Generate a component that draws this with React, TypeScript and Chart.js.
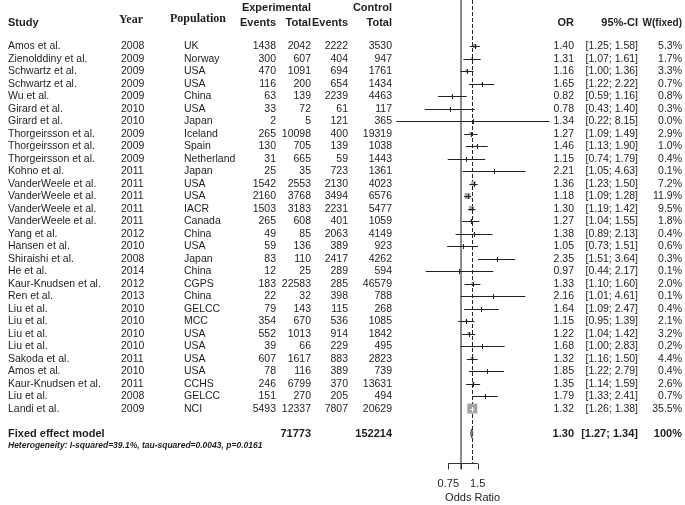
import React, { useEffect, useRef } from "react";
import { Chart, registerables } from "chart.js";

Chart.register(...registerables);

const studies = [
  "Amos et al.", "Zienolddiny et al.", "Schwartz et al.", "Schwartz et al.", "Wu et al.",
  "Girard et al.", "Girard et al.", "Thorgeirsson et al.", "Thorgeirsson et al.", "Thorgeirsson et al.",
  "Kohno et al.", "VanderWeele et al.", "VanderWeele et al.", "VanderWeele et al.", "VanderWeele et al.",
  "Yang et al.", "Hansen et al.", "Shiraishi et al.", "He et al.", "Kaur-Knudsen et al.",
  "Ren et al.", "Liu et al.", "Liu et al.", "Liu et al.", "Liu et al.",
  "Sakoda et al.", "Amos et al.", "Kaur-Knudsen et al.", "Liu et al.", "Landi et al.",
];
const years = [
  "2008", "2009", "2009", "2009", "2009", "2010", "2010", "2009", "2009", "2009",
  "2011", "2011", "2011", "2011", "2011", "2012", "2010", "2008", "2014", "2012",
  "2013", "2010", "2010", "2010", "2010", "2011", "2010", "2011", "2008", "2009",
];
const populations = [
  "UK", "Norway", "USA", "USA", "China", "USA", "Japan", "Iceland", "Spain", "Netherland",
  "Japan", "USA", "USA", "IACR", "Canada", "China", "USA", "Japan", "China", "CGPS",
  "China", "GELCC", "MCC", "USA", "USA", "USA", "USA", "CCHS", "GELCC", "NCI",
];
const expEvents = [1438, 300, 470, 116, 63, 33, 2, 265, 130, 31, 25, 1542, 2160, 1503, 265, 49, 59, 83, 12, 183, 22, 79, 354, 552, 39, 607, 78, 246, 151, 5493];
const expTotals = [2042, 607, 1091, 200, 139, 72, 5, 10098, 705, 665, 35, 2553, 3768, 3183, 608, 85, 136, 110, 25, 22583, 32, 143, 670, 1013, 66, 1617, 116, 6799, 270, 12337];
const ctrlEvents = [2222, 404, 694, 654, 2239, 61, 121, 400, 139, 59, 723, 2130, 3494, 2231, 401, 2063, 389, 2417, 289, 285, 398, 115, 536, 914, 229, 883, 389, 370, 205, 7807];
const ctrlTotals = [3530, 947, 1761, 1434, 4463, 117, 365, 19319, 1038, 1443, 1361, 4023, 6576, 5477, 1059, 4149, 923, 4262, 594, 46579, 788, 268, 1085, 1842, 495, 2823, 739, 13631, 494, 20629];
const oddsRatios = [1.40, 1.31, 1.16, 1.65, 0.82, 0.78, 1.34, 1.27, 1.46, 1.15, 2.21, 1.36, 1.18, 1.30, 1.27, 1.38, 1.05, 2.35, 0.97, 1.33, 2.16, 1.64, 1.15, 1.22, 1.68, 1.32, 1.85, 1.35, 1.79, 1.32];
const ciLower = [1.25, 1.07, 1.00, 1.22, 0.59, 0.43, 0.22, 1.09, 1.13, 0.74, 1.05, 1.23, 1.09, 1.19, 1.04, 0.89, 0.73, 1.51, 0.44, 1.10, 1.01, 1.09, 0.95, 1.04, 1.00, 1.16, 1.22, 1.14, 1.33, 1.26];
const ciUpper = [1.58, 1.61, 1.36, 2.22, 1.16, 1.40, 8.15, 1.49, 1.90, 1.79, 4.63, 1.50, 1.28, 1.42, 1.55, 2.13, 1.51, 3.64, 2.17, 1.60, 4.61, 2.47, 1.39, 1.42, 2.83, 1.50, 2.79, 1.59, 2.41, 1.38];
const weights = [5.3, 1.7, 3.3, 0.7, 0.8, 0.3, 0.0, 2.9, 1.0, 0.4, 0.1, 7.2, 11.9, 9.5, 1.8, 0.4, 0.6, 0.3, 0.1, 2.0, 0.1, 0.4, 2.1, 3.2, 0.2, 4.4, 0.4, 2.6, 0.7, 35.5];

const pooledLabel = "Fixed effect model";
const pooledOR = 1.3;
const pooledLower = 1.27;
const pooledUpper = 1.34;
const pooledWeight = "100%";
const totalExp = 71773;
const totalCtrl = 152214;
const heterogeneityText = "Heterogeneity: I-squared=39.1%, tau-squared=0.0043, p=0.0161";
const axisTicks = [0.75, 1, 1.5];
const axisTickLabels = ["0.75", "", "1.5"];
const axisTitle = "Odds Ratio";

const SANS = '"Liberation Sans", Arial, sans-serif';
const SERIF = '"Liberation Serif", "Times New Roman", serif';
const TEXT = "#1e1e1e";
const maxW = Math.max(...weights);
const squareSide = (w: number) => 10 * Math.sqrt(w / maxW);

const forestPlugin = {
  id: "forest",
  beforeDatasetsDraw(chart: any) {
    const { ctx, scales } = chart;
    const xs = scales.x;
    const axisY = 463;
    ctx.save();
    const x1 = Math.round(xs.getPixelForValue(1));
    ctx.strokeStyle = "#8a8a8a";
    ctx.lineWidth = 2;
    ctx.beginPath();
    ctx.moveTo(x1, 0);
    ctx.lineTo(x1, axisY + 6);
    ctx.stroke();
    const xp = Math.round(xs.getPixelForValue(pooledOR)) + 0.5;
    ctx.strokeStyle = "#222";
    ctx.lineWidth = 1;
    ctx.setLineDash([4, 2]);
    ctx.beginPath();
    ctx.moveTo(xp, 0);
    ctx.lineTo(xp, axisY);
    ctx.stroke();
    ctx.restore();
  },
  afterDatasetsDraw(chart: any) {
    const { ctx, scales } = chart;
    const xs = scales.x;
    const ys = scales.y;
    ctx.save();
    ctx.lineWidth = 1;
    studies.forEach((_, i) => {
      const y = Math.round(ys.getPixelForValue(i)) + 0.5;
      const xl = xs.getPixelForValue(ciLower[i]);
      const xu = xs.getPixelForValue(ciUpper[i]);
      const xe = xs.getPixelForValue(oddsRatios[i]);
      const s = squareSide(weights[i]);
      const inside = xl >= xe - s / 2 && xu <= xe + s / 2;
      ctx.strokeStyle = inside ? "#ffffff" : "#222";
      ctx.beginPath();
      ctx.moveTo(xl, y);
      ctx.lineTo(xu, y);
      ctx.moveTo(Math.round(xe) + 0.5, y - 2.5);
      ctx.lineTo(Math.round(xe) + 0.5, y + 2.5);
      ctx.stroke();
    });
    const yd = ys.getPixelForValue(studies.length + 1);
    const dl = xs.getPixelForValue(pooledLower);
    const dm = xs.getPixelForValue(pooledOR);
    const du = xs.getPixelForValue(pooledUpper);
    ctx.fillStyle = "#9a9a9a";
    ctx.strokeStyle = "#444";
    ctx.beginPath();
    ctx.moveTo(dl, yd);
    ctx.lineTo(dm, yd - 4.5);
    ctx.lineTo(du, yd);
    ctx.lineTo(dm, yd + 4.5);
    ctx.closePath();
    ctx.fill();
    ctx.stroke();

    const axisY = 463.5;
    const a0 = xs.getPixelForValue(axisTicks[0]);
    const a1 = xs.getPixelForValue(axisTicks[axisTicks.length - 1]);
    ctx.strokeStyle = "#333";
    ctx.beginPath();
    ctx.moveTo(a0, axisY);
    ctx.lineTo(a1, axisY);
    axisTicks.forEach((t) => {
      const tx = Math.round(xs.getPixelForValue(t)) + 0.5;
      ctx.moveTo(tx, axisY);
      ctx.lineTo(tx, axisY + 6);
    });
    ctx.stroke();
    ctx.fillStyle = TEXT;
    ctx.font = `11px ${SANS}`;
    ctx.textAlign = "center";
    ctx.textBaseline = "middle";
    axisTicks.forEach((t, k) => {
      if (axisTickLabels[k]) ctx.fillText(axisTickLabels[k], xs.getPixelForValue(t), 484);
    });
    ctx.fillText(axisTitle, xs.getPixelForValue(pooledOR) + 1, 498);
    ctx.restore();
  },
  afterDraw(chart: any) {
    const { ctx, scales } = chart;
    const ys = scales.y;
    ctx.save();
    ctx.fillStyle = TEXT;
    ctx.textBaseline = "middle";
    const put = (t: string, x: number, y: number, align: CanvasTextAlign) => {
      ctx.textAlign = align;
      ctx.fillText(t, x, y);
    };
    ctx.font = `bold 11px ${SANS}`;
    put("Experimental", 311, 8, "right");
    put("Control", 392, 8, "right");
    put("Study", 8, 23, "left");
    put("Events", 276, 23, "right");
    put("Total", 311, 23, "right");
    put("Events", 348, 23, "right");
    put("Total", 392, 23, "right");
    put("OR", 574, 23, "right");
    put("95%-CI", 638, 23, "right");
    ctx.font = `bold 10px ${SANS}`;
    put("W(fixed)", 682, 23, "right");
    ctx.font = `bold 12px ${SERIF}`;
    put("Year", 119, 20, "left");
    put("Population", 170, 19, "left");

    ctx.font = `10.5px ${SANS}`;
    studies.forEach((name, i) => {
      const y = ys.getPixelForValue(i) + 0.5;
      put(name, 8, y, "left");
      put(years[i], 121, y, "left");
      put(populations[i], 184, y, "left");
      put(String(expEvents[i]), 276, y, "right");
      put(String(expTotals[i]), 311, y, "right");
      put(String(ctrlEvents[i]), 348, y, "right");
      put(String(ctrlTotals[i]), 392, y, "right");
      put(oddsRatios[i].toFixed(2), 574, y, "right");
      put(`[${ciLower[i].toFixed(2)}; ${ciUpper[i].toFixed(2)}]`, 638, y, "right");
      put(`${weights[i].toFixed(1)}%`, 682, y, "right");
    });

    const yp = ys.getPixelForValue(studies.length + 1) + 0.5;
    ctx.font = `bold 11px ${SANS}`;
    put(pooledLabel, 8, yp, "left");
    put(String(totalExp), 311, yp, "right");
    put(String(totalCtrl), 392, yp, "right");
    put(pooledOR.toFixed(2), 574, yp, "right");
    put(`[${pooledLower.toFixed(2)}; ${pooledUpper.toFixed(2)}]`, 638, yp, "right");
    put(pooledWeight, 682, yp, "right");

    const yh = ys.getPixelForValue(studies.length + 2);
    ctx.font = `italic bold 8.5px ${SANS}`;
    put(heterogeneityText, 8, yh, "left");
    ctx.restore();
  },
};

export default function App() {
  const canvasRef = useRef<HTMLCanvasElement | null>(null);

  useEffect(() => {
    if (!canvasRef.current) return;
    const W = 685;
    const H = 505;
    const xMin = 0.2;
    const xMax = 10;
    const oneX = 460.5;
    const perLn = 42.4;
    const left = oneX + perLn * Math.log(xMin);
    const right = W - (oneX + perLn * Math.log(xMax));
    const chart = new Chart(canvasRef.current, {
      type: "scatter",
      data: {
        datasets: [
          {
            label: "Studies",
            data: studies.map((_, i) => ({ x: oddsRatios[i], y: i })),
            pointStyle: "rect",
            pointRadius: (c: any) => squareSide(weights[c.dataIndex] ?? 0) / Math.SQRT2,
            pointBackgroundColor: "#a3a3a3",
            pointBorderWidth: 0,
            pointHoverRadius: 0,
          },
        ],
      },
      options: {
        responsive: false,
        animation: false,
        events: [],
        layout: { padding: { left, right, top: 8.5, bottom: H - 471 } },
        scales: {
          x: { type: "logarithmic", min: xMin, max: xMax, display: false },
          y: { type: "linear", min: -3, max: 34, reverse: true, display: false },
        },
        plugins: { legend: { display: false }, tooltip: { enabled: false } },
      },
      plugins: [forestPlugin],
    } as any);
    return () => chart.destroy();
  }, []);

  return (
    <div style={{ position: "absolute", left: 0, top: 0, width: 685, height: 505, background: "#fff" }}>
      <canvas ref={canvasRef} width={685} height={505} style={{ display: "block" }} />
    </div>
  );
}
